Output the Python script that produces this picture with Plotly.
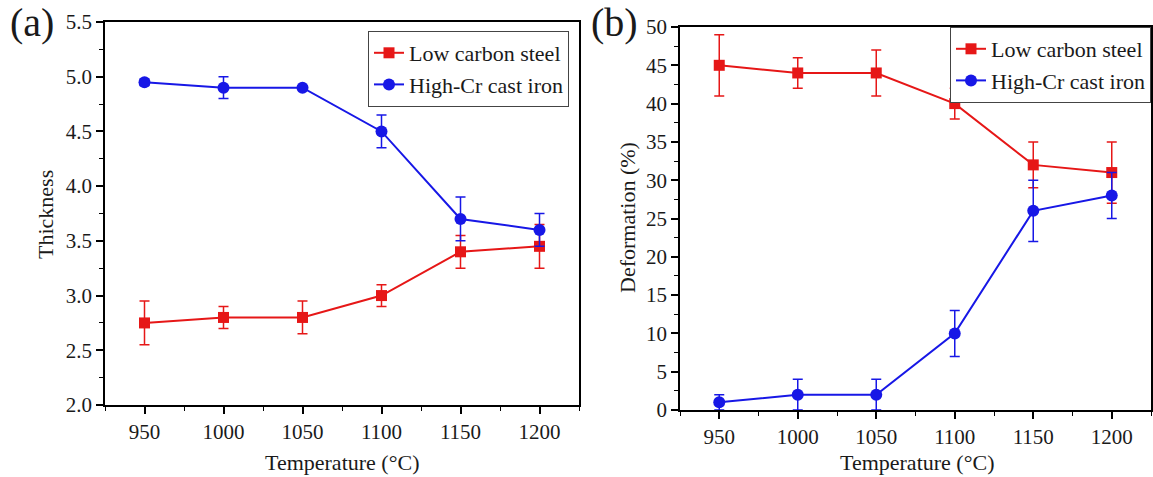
import plotly.graph_objects as go

temps = [950, 1000, 1050, 1100, 1150, 1200]

# Panel (a): thickness
thk_low = [2.75, 2.8, 2.8, 3.0, 3.4, 3.45]
thk_low_err = [0.2, 0.1, 0.15, 0.1, 0.15, 0.2]
thk_cr = [4.95, 4.9, 4.9, 4.5, 3.7, 3.6]
thk_cr_err = [0.03, 0.1, 0.0, 0.15, 0.2, 0.15]

# Panel (b): deformation (%)
def_low = [45, 44, 44, 40, 32, 31]
def_low_err = [4, 2, 3, 2, 3, 4]
def_cr = [1, 2, 2, 10, 26, 28]
def_cr_err = [1, 2, 2, 3, 4, 3]

RED = "#e61717"
BLUE = "#1717e6"
FONT = "Liberation Serif"
TXT = "#1a1a1a"

fig = go.Figure()

def add(x, y, err, color, symbol, size, name, xa, ya, leg):
    fig.add_trace(go.Scatter(
        x=x, y=y, name=name, mode="lines+markers",
        line=dict(color=color, width=2),
        marker=dict(color=color, symbol=symbol, size=size),
        error_y=dict(type="data", array=err, visible=True, color=color,
                     thickness=1.5, width=5),
        xaxis=xa, yaxis=ya, legend=leg))

add(temps, thk_low, thk_low_err, RED, "square", 11, "Low carbon steel", "x", "y", "legend")
add(temps, thk_cr, thk_cr_err, BLUE, "circle", 12, "High-Cr cast iron", "x", "y", "legend")
add(temps, def_low, def_low_err, RED, "square", 11, "Low carbon steel", "x2", "y2", "legend2")
add(temps, def_cr, def_cr_err, BLUE, "circle", 12, "High-Cr cast iron", "x2", "y2", "legend2")

W, H = 1153, 477
def px(x): return x / W
def py(y): return 1 - y / H

axis_common = dict(
    showline=True, linecolor="black", linewidth=1.5, mirror=True,
    ticks="outside", ticklen=7, tickwidth=1.5, tickcolor="black",
    showgrid=False, zeroline=False, automargin=False,
    tickfont=dict(family=FONT, size=21, color=TXT),
)
xminor = dict(ticks="outside", ticklen=4, tickwidth=1.2, tickcolor="black", dtick=25, showgrid=False)

fig.update_layout(
    width=W, height=H,
    margin=dict(l=0, r=0, t=0, b=0, autoexpand=False),
    paper_bgcolor="white", plot_bgcolor="white",
    xaxis=dict(domain=[px(105), px(579)], range=[925, 1225], tickvals=temps,
               anchor="y", minor=xminor, **axis_common),
    yaxis=dict(domain=[py(405), py(22)], range=[2.0, 5.5], dtick=0.5, tickformat=".1f",
               anchor="x",
               minor=dict(ticks="outside", ticklen=4, tickwidth=1.2, tickcolor="black", dtick=0.25, showgrid=False),
               **axis_common),
    xaxis2=dict(domain=[px(680), px(1151)], range=[925, 1225], tickvals=temps,
                anchor="y2", minor=xminor, **axis_common),
    yaxis2=dict(domain=[py(410), py(27)], range=[0, 50], dtick=5,
                anchor="x2",
                minor=dict(ticks="outside", ticklen=4, tickwidth=1.2, tickcolor="black", dtick=2.5, showgrid=False),
                **axis_common),
    legend=dict(x=px(569), y=py(31), xanchor="right", yanchor="top",
                bordercolor="#444", borderwidth=1, bgcolor="white",
                font=dict(family=FONT, size=22, color=TXT), tracegroupgap=0),
    legend2=dict(x=px(1151), y=py(27), xanchor="right", yanchor="top",
                 bordercolor="#444", borderwidth=1, bgcolor="white",
                 font=dict(family=FONT, size=22, color=TXT), tracegroupgap=0),
    showlegend=True,
)

ann = [
    dict(text="(a)", x=px(32), y=py(22), font=dict(size=40)),
    dict(text="(b)", x=px(614), y=py(22), font=dict(size=40)),
    dict(text="Thickness", x=px(45), y=py(215), textangle=-90, font=dict(size=22)),
    dict(text="Deformation (%)", x=px(627), y=py(218), textangle=-90, font=dict(size=22)),
    dict(text="Temperature (°C)", x=px(342), y=py(462), font=dict(size=22)),
    dict(text="Temperature (°C)", x=px(917), y=py(462), font=dict(size=22)),
]
for a in ann:
    f = dict(family=FONT, color=TXT)
    f.update(a.pop("font"))
    fig.add_annotation(xref="paper", yref="paper", showarrow=False,
                       xanchor="center", yanchor="middle", font=f, **a)

fig.write_html("out.html")
